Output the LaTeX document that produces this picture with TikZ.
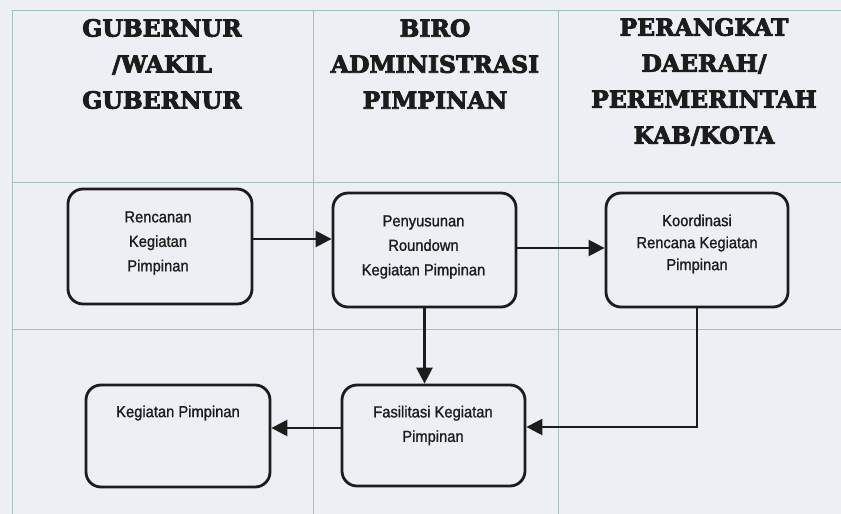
\documentclass[tikz,border=0pt]{standalone}
\usepackage{fontspec}
\usetikzlibrary{arrows.meta,calc}
\newfontfamily\boxfont{Liberation Sans}[FakeBold=1.2,FakeStretch=0.92]
\newfontfamily\headfont{DejaVu Serif}[BoldFeatures={FakeBold=3.6}]
\definecolor{paper}{HTML}{ECEFF4}
\definecolor{gridline}{HTML}{A3BFC1}
\definecolor{ink}{HTML}{1C1C1C}
\begin{document}
\begin{tikzpicture}[x=1pt,y=-1pt,
  lane/.style={draw=gridline,line width=0.9pt},
  head/.style={align=center,font=\headfont\bfseries\fontsize{23.5}{36}\selectfont,text=ink,inner sep=0pt},
  stepbox/.style={draw=ink,line width=2.8pt,rounded corners=15pt,inner sep=0pt},
  boxtext/.style={align=center,font=\boxfont\fontsize{16}{24.5}\selectfont,text=ink,inner sep=0pt},
  arr/.style={draw=ink,line width=2.5pt,-{Triangle[length=16pt,width=16pt]}}]
  % page and swimlane grid
  \fill[paper] (0,0) rectangle (841,514);
  \useasboundingbox (0,0) rectangle (841,514);
  \draw[lane] (12,10) -- (841,10);
  \draw[lane] (12,182) -- (841,182);
  \draw[lane] (12,329) -- (841,329);
  \draw[lane] (12,10) -- (12,514);
  \draw[lane] (313,10) -- (313,514);
  \draw[lane] (558,10) -- (558,514);
  % lane headings
  \node[head] (h1) at (162,64) {GUBERNUR\\/WAKIL\\GUBERNUR};
  \node[head] (h2) at (435,64) {BIRO\\ADMINISTRASI\\PIMPINAN};
  \node[head] (h3) at (704,82) {PERANGKAT\\DAERAH/\\PEREMERINTAH\\KAB/KOTA};
  % process boxes
  \node[stepbox,minimum width=184pt,minimum height=115pt] (b1) at (160,246.5) {};
  \node[stepbox,minimum width=183pt,minimum height=114pt] (b2) at (424.5,250) {};
  \node[stepbox,minimum width=182pt,minimum height=114pt] (b3) at (697,250) {};
  \node[stepbox,minimum width=184pt,minimum height=102pt] (b4) at (178,436) {};
  \node[stepbox,minimum width=183pt,minimum height=101pt] (b5) at (433.5,435.5) {};
  % box labels
  \node[boxtext] (t1) at (158,243) {Rencanan\\Kegiatan\\Pimpinan};
  \node[boxtext] (t2) at (423.5,247) {Penyusunan\\Roundown\\Kegiatan Pimpinan};
  \node[boxtext,font=\boxfont\fontsize{16}{22}\selectfont] (t3) at (697,244) {Koordinasi\\Rencana Kegiatan\\Pimpinan};
  \node[boxtext] (t4) at (178,413) {Kegiatan Pimpinan};
  \node[boxtext] (t5) at (433,425.5) {Fasilitasi Kegiatan\\Pimpinan};
  % connectors
  \coordinate (a1) at ([yshift=7.5pt]b1.east);
  \draw[arr] (a1) -- (a1 -| b2.west);
  \coordinate (a2) at ([yshift=2pt]b2.east);
  \draw[arr] (a2) -- (a2 -| b3.west);
  \draw[arr] (b2.south) -- (b2.south |- b5.north);
  \coordinate (a4) at ([yshift=8.5pt]b5.east);
  \draw[arr] (b3.south) |- (a4);
  \coordinate (a5) at ([yshift=7.5pt]b5.west);
  \draw[arr] (a5) -- (a5 -| b4.east);
\end{tikzpicture}
\end{document}
